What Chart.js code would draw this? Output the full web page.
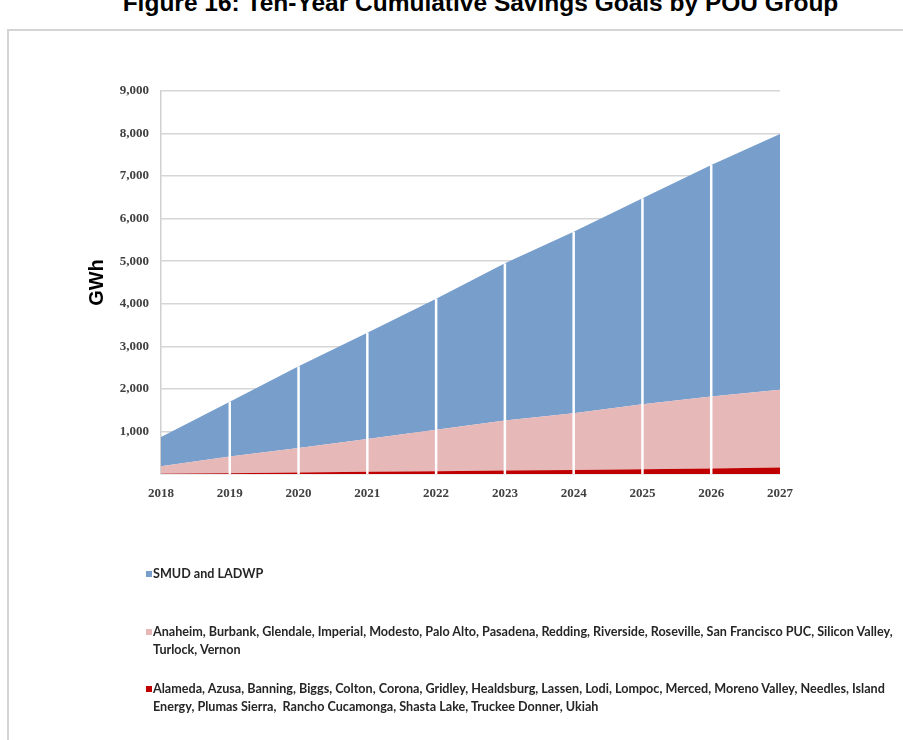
<!DOCTYPE html>
<html>
<head>
<meta charset="utf-8">
<script src="https://cdn.jsdelivr.net/npm/chart.js@4"></script>
<style>
    body { margin: 0; width: 903px; height: 740px; background: #fff; overflow: hidden; position: relative; }
    #moldura { position: absolute; left: 7px; top: 29px; width: 1000px; height: 1000px; border: 2px solid #d4d4d4; border-right: none; border-bottom: none; }
    #titulo { position: absolute; left: 0; width: 961px; top: -9px; text-align: center; font: bold 24.5px "Liberation Sans", Arial, sans-serif; line-height: 24.5px; color: #000; white-space: nowrap; }
    #grafico { position: absolute; left: 0; top: 0; }
    .legenda { position: absolute; left: 153px; font: bold 12.6px Lato, sans-serif; line-height: 18px; color: #262626; white-space: pre; }
    .legenda span { position: absolute; left: -7px; top: 6px; width: 6px; height: 6px; }
</style>
</head>
<body>
<div id="moldura"></div>
<div id="titulo">Figure 16: Ten-Year Cumulative Savings Goals by POU Group</div>
<canvas id="grafico" width="903" height="740"></canvas>
<div class="legenda" style="top:565px"><span style="background:#789ECC"></span>SMUD and LADWP</div>
<div class="legenda" style="top:623px"><span style="background:#E6B8B7"></span>Anaheim, Burbank, Glendale, Imperial, Modesto, Palo Alto, Pasadena, Redding, Riverside, Roseville, San Francisco PUC, Silicon Valley,
Turlock, Vernon</div>
<div class="legenda" style="top:680px"><span style="background:#C00000"></span>Alameda, Azusa, Banning, Biggs, Colton, Corona, Gridley, Healdsburg, Lassen, Lodi, Lompoc, Merced, Moreno Valley, Needles, Island
Energy, Plumas Sierra,  Rancho Cucamonga, Shasta Lake, Truckee Donner, Ukiah</div>

<script>
    // Anos do eixo x
    const anos = ['2018', '2019', '2020', '2021', '2022', '2023', '2024', '2025', '2026', '2027'];

    // Parcela de cada grupo (GWh), empilhadas
    const grupoPequenos = [5, 20, 35, 50, 65, 80, 95, 110, 130, 155];
    const grupoMedios = [175, 390, 575, 770, 975, 1180, 1335, 1530, 1690, 1825];
    const smudLadwp = [690, 1290, 1920, 2500, 3080, 3690, 4260, 4840, 5440, 6010];

    // Ticks do eixo y
    const ticksY = [0, 1000, 2000, 3000, 4000, 5000, 6000, 7000, 8000, 9000];

    const totais = anos.map((a, i) => grupoPequenos[i] + grupoMedios[i] + smudLadwp[i]);

    // Linhas brancas verticais por cima das areas
    const linhasBrancas = {
        id: 'linhasBrancas',
        afterDatasetsDraw(chart) {
            const { ctx, chartArea, scales } = chart;
            ctx.save();
            ctx.strokeStyle = '#ffffff';
            ctx.lineWidth = 2.5;
            for (let i = 1; i < anos.length - 1; i++) {
                const x = scales.x.getPixelForValue(i);
                const yTopo = scales.y.getPixelForValue(totais[i]);
                ctx.beginPath();
                ctx.moveTo(x, chartArea.bottom);
                ctx.lineTo(x, yTopo);
                ctx.stroke();
            }
            ctx.restore();
        }
    };

    const area = (dados, cor, fill) => ({
        data: dados,
        backgroundColor: cor,
        borderColor: cor,
        borderWidth: 0,
        pointRadius: 0,
        tension: 0,
        fill: fill
    });

    const ctx = document.getElementById('grafico').getContext('2d');
    new Chart(ctx, {
        type: 'line',
        data: {
            labels: anos,
            datasets: [
                area(grupoPequenos, '#C00000', 'origin'),
                area(grupoMedios, '#E6B8B7', '-1'),
                area(smudLadwp, '#789ECC', '-1')
            ]
        },
        options: {
            responsive: false,
            animation: false,
            events: [],
            layout: { padding: { left: 85, top: 91, right: 123, bottom: 236 } },
            plugins: { legend: { display: false }, tooltip: { enabled: false } },
            scales: {
                x: {
                    offset: false,
                    grid: { display: false },
                    border: { display: false },
                    ticks: {
                        padding: 4,
                        maxRotation: 0,
                        color: '#404040',
                        font: { family: '"Liberation Serif", serif', size: 13, weight: 'bold' }
                    },
                    afterFit(scale) {
                        scale.height = 30;
                        scale.paddingLeft = 0;
                        scale.paddingRight = 0;
                    }
                },
                y: {
                    stacked: true,
                    min: 0,
                    max: 9000,
                    afterBuildTicks(scale) {
                        scale.ticks = ticksY.map(v => ({ value: v }));
                    },
                    grid: { color: '#d6d6d6', lineWidth: 1.5, drawTicks: false },
                    border: { display: true, color: '#d0d0d0', width: 1.5 },
                    ticks: {
                        padding: 12,
                        color: '#404040',
                        font: { family: '"Liberation Serif", serif', size: 13, weight: 'bold' },
                        callback: v => v === 0 ? '' : v.toLocaleString('en-US')
                    },
                    title: {
                        display: true,
                        text: 'GWh',
                        color: '#000',
                        padding: { top: 0, bottom: 0 },
                        font: { family: '"Liberation Sans", Arial, sans-serif', size: 20, weight: 'bold' }
                    },
                    afterFit(scale) {
                        scale.width = 76;
                        scale.paddingTop = 0;
                        scale.paddingBottom = 0;
                    }
                }
            }
        },
        plugins: [linhasBrancas]
    });
</script>
</body>
</html>
